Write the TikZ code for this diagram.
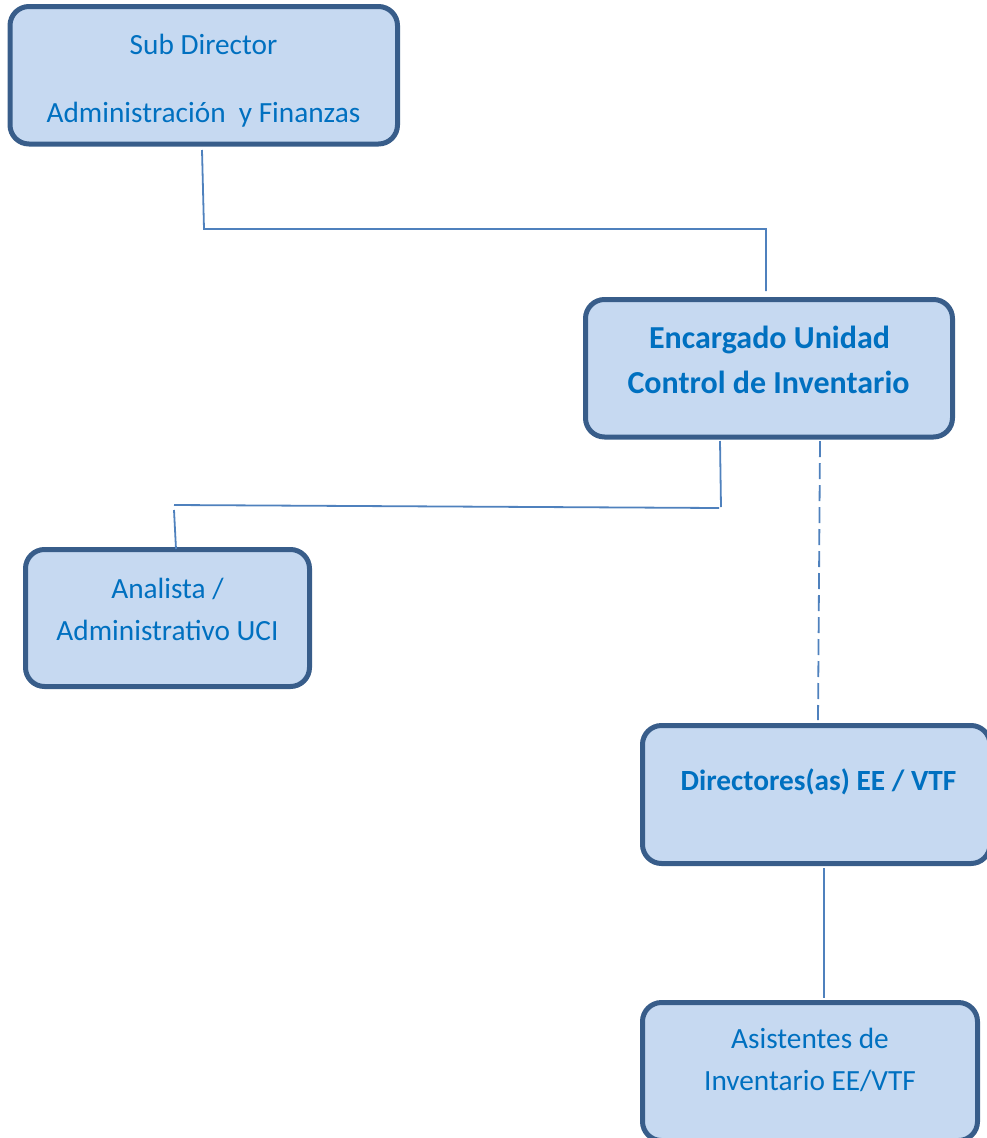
\documentclass[tikz,border=0pt]{standalone}
\usepackage{fontspec}
\setmainfont{Carlito}
\definecolor{boxfill}{HTML}{C6D9F1}
\definecolor{boxline}{HTML}{385D8A}
\definecolor{txtblue}{HTML}{0070C0}
\definecolor{conline}{HTML}{4F81BD}
\begin{document}
\begin{tikzpicture}[x=1pt,y=-1pt,
  orgbox/.style={draw=boxline, fill=boxfill, line width=5pt, rounded corners=19pt, inner sep=0pt, outer sep=0pt},
  lbl/.style={text=txtblue, anchor=base, inner sep=0pt, font=\fontsize{29.3}{35}\selectfont},
  blbl/.style={lbl, font=\fontsize{29.3}{35}\selectfont\bfseries},
  bigblbl/.style={lbl, font=\fontsize{32}{38}\selectfont\bfseries},
  conn/.style={draw=conline, line width=1.8pt},
  dconn/.style={conn, dash pattern=on 16pt off 6pt}]
\useasboundingbox (0,0) rectangle (987,1138);
% boxes
\node[orgbox, minimum width=387.5pt, minimum height=137.5pt] (sub) at (203.75,75.25) {};
\node[orgbox, minimum width=367pt, minimum height=137.5pt] (enc) at (769,368.25) {};
\node[orgbox, minimum width=284pt, minimum height=137pt] (ana) at (167.5,618) {};
\node[orgbox, minimum width=347.5pt, minimum height=138pt] (dir) at (816.25,794.5) {};
\node[orgbox, minimum width=335pt, minimum height=138pt] (asi) at (810,1071.5) {};
% texts
\node[lbl] (sub1) at (203.5,54) {Sub Director};
\node[lbl] (sub2) at (203.5,122) {Administración\ \ y Finanzas};
\node[bigblbl] (enc1) at (769.5,348.5) {Encargado Unidad};
\node[bigblbl] (enc2) at (768.5,393.5) {Control de Inventario};
\node[lbl] (ana1) at (167.5,598) {Analista /};
\node[lbl] (ana2) at (167.5,640) {Administrativo UCI};
\node[blbl] (dir1) at (818.5,790) {Directores(as) EE / VTF};
\node[lbl] (asi1) at (810,1048.5) {Asistentes de};
\node[lbl] (asi2) at (810,1090) {Inventario EE/VTF};
% connector points
\coordinate (a1) at (202,150);
\coordinate (a2) at (204,229);
\coordinate (a3) at (766,229);
\coordinate (a4) at (766,291);
\coordinate (b1) at (720,441);
\coordinate (b2) at (721,507);
\coordinate (b3) at (719,508);
\coordinate (b4) at (174,505);
\coordinate (b5) at (174,510);
\coordinate (b6) at (176,549);
\coordinate (d1) at (820,441);
\coordinate (d2) at (818,720);
\coordinate (e1) at (824,868);
\coordinate (e2) at (824,998);
% connectors
\draw[conn] (a1) -- (a2) -- (a3) -- (a4);
\draw[conn] (b1) -- (b2);
\draw[conn] (b3) -- (b4);
\draw[conn] (b5) -- (b6);
\draw[dconn] (d1) -- (d2);
\draw[conn] (e1) -- (e2);
\end{tikzpicture}
\end{document}
